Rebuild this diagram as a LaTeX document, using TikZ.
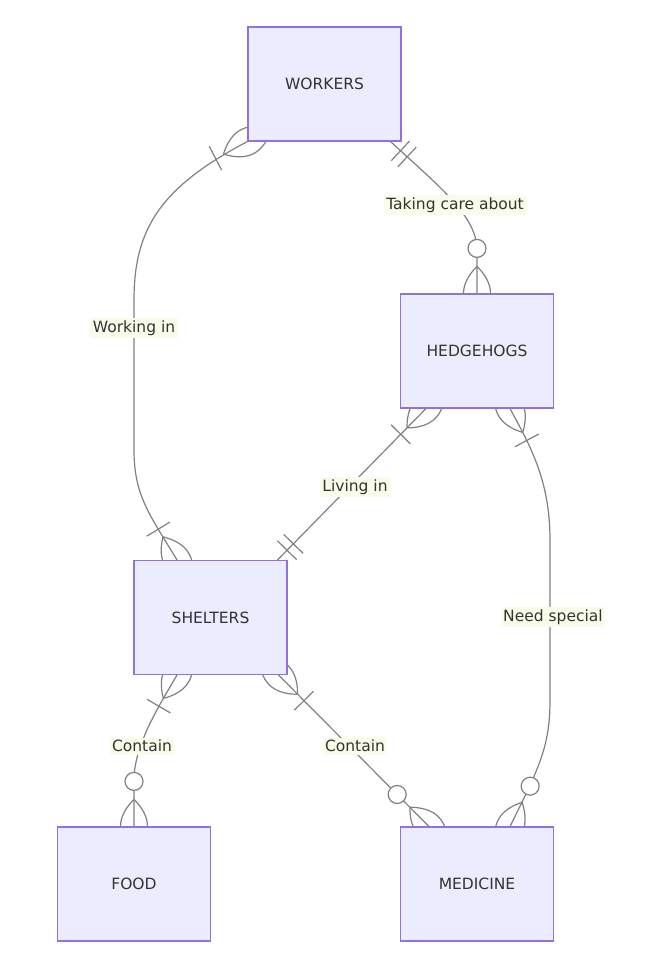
\documentclass[tikz,border=0pt]{standalone}
\usepackage{fontspec}
\setmainfont{DejaVu Sans}
\usepackage{xcolor}
\usepackage{tikz}
\usetikzlibrary{calc,backgrounds}
\definecolor{entfill}{HTML}{ECECFF}
\definecolor{entline}{HTML}{9370DB}
\definecolor{relgray}{HTML}{808080}
\definecolor{lblbg}{HTML}{F8FCE8}
\definecolor{txt}{HTML}{333333}
\tikzset{
  rel/.style={draw=relgray,line width=1.2pt},
  entity/.style={rectangle,draw=entline,fill=entfill,line width=1.2pt,
    minimum width=153pt,minimum height=114pt,text=txt,
    font=\fontsize{15.5}{18}\selectfont},
  lbl/.style={fill=lblbg,text=txt,inner sep=2.5pt,
    font=\fontsize{15.5}{18}\selectfont},
  crowfoot/.pic={\draw[rel] (-27,0) .. controls (-9,18) and (9,18) .. (27,0)
    .. controls (9,-18) and (-9,-18) .. (-27,0);},
  onebar/.pic={\draw[rel] (-36,-13.5) -- (-36,13.5);},
  twobars/.pic={\draw[rel] (-13.5,-13.5) -- (-13.5,13.5)
    (-22.5,-13.5) -- (-22.5,13.5);},
  ring/.pic={\draw[rel,fill=white] (-45,0) circle (9);},
}
\begin{document}
\begin{tikzpicture}[x=1pt,y=1pt]
\useasboundingbox (0,0) rectangle (646,-971);

\node[entity] (workers) at (324.5,-84) {WORKERS};
\node[entity] (hedgehogs) at (477,-351) {HEDGEHOGS};
\node[entity] (shelters) at (210.5,-617.5) {SHELTERS};
\node[entity] (food) at (134,-884) {FOOD};
\node[entity] (medicine) at (477,-884) {MEDICINE};

\begin{scope}[on background layer]
% workers -- shelters
\draw[rel] (workers.south west) .. controls +(-88,-46) and +(0,70) .. (134,-300)
  -- (134,-450) .. controls +(0,-45) and +(-28,46) .. ($(shelters.north)+(-33.5,0)$);
\pic[rotate=27.5] at (workers.south west) {crowfoot};
\pic[rotate=27.5] at (workers.south west) {onebar};
\pic[rotate=-58.7] at ($(shelters.north)+(-33.5,0)$) {crowfoot};
\pic[rotate=-58.7] at ($(shelters.north)+(-33.5,0)$) {onebar};

% workers -- hedgehogs
\draw[rel] ($(workers.south east)+(-11,0)$) .. controls +(45,-42) and +(0,35) .. (477,-250)
  -- (hedgehogs.north);
\pic[rotate=137] at ($(workers.south east)+(-11,0)$) {twobars};
\pic[rotate=-90] at (hedgehogs.north) {ring};
\pic[rotate=-90] at (hedgehogs.north) {crowfoot};

% hedgehogs -- shelters
\draw[rel] ($(hedgehogs.south west)+(26,0)$) -- ($(shelters.north east)+(-10,0)$);
\pic[rotate=45.6] at ($(hedgehogs.south west)+(26,0)$) {crowfoot};
\pic[rotate=45.6] at ($(hedgehogs.south west)+(26,0)$) {onebar};
\pic[rotate=225.6] at ($(shelters.north east)+(-10,0)$) {twobars};

% hedgehogs -- medicine
\draw[rel] ($(hedgehogs.south)+(33,0)$) .. controls +(20,-37) and +(0,60) .. (550,-540)
  -- (550,-700) .. controls +(0,-45) and +(30,60) .. ($(medicine.north)+(33,0)$);
\pic[rotate=118] at ($(hedgehogs.south)+(33,0)$) {crowfoot};
\pic[rotate=118] at ($(hedgehogs.south)+(33,0)$) {onebar};
\pic[rotate=243.4] at ($(medicine.north)+(33,0)$) {ring};
\pic[rotate=243.4] at ($(medicine.north)+(33,0)$) {crowfoot};

% shelters -- food
\draw[rel] ($(shelters.south)+(-33.5,0)$) .. controls +(-17,-29) and +(0,35) .. (134,-780)
  -- (food.north);
\pic[rotate=59.7] at ($(shelters.south)+(-33.5,0)$) {crowfoot};
\pic[rotate=59.7] at ($(shelters.south)+(-33.5,0)$) {onebar};
\pic[rotate=-90] at (food.north) {ring};
\pic[rotate=-90] at (food.north) {crowfoot};

% shelters -- medicine
\draw[rel] ($(shelters.south east)+(-9,0)$) -- ($(medicine.north west)+(29,0)$);
\pic[rotate=134.8] at ($(shelters.south east)+(-9,0)$) {crowfoot};
\pic[rotate=134.8] at ($(shelters.south east)+(-9,0)$) {onebar};
\pic[rotate=-45.2] at ($(medicine.north west)+(29,0)$) {ring};
\pic[rotate=-45.2] at ($(medicine.north west)+(29,0)$) {crowfoot};
\end{scope}

\node[lbl] (lwork) at (134,-328) {Working in};
\node[lbl] (lcare) at (455,-205) {Taking care about};
\node[lbl] (lliv) at (355,-487) {Living in};
\node[lbl] (lneed) at (553,-617) {Need special};
\node[lbl] (lfood) at (142,-746) {Contain};
\node[lbl] (lmed) at (355,-746) {Contain};
\end{tikzpicture}
\end{document}
